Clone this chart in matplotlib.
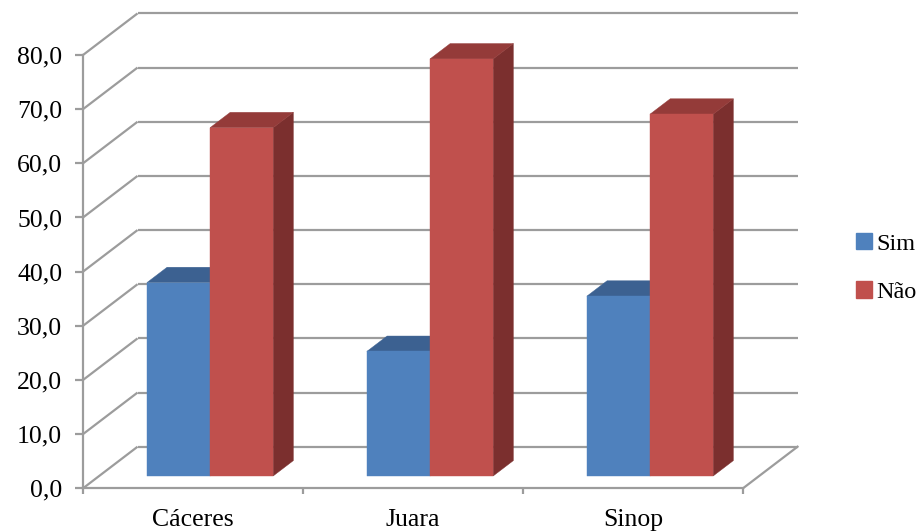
import matplotlib
matplotlib.use("Agg")
import matplotlib.pyplot as plt
from matplotlib.patches import Polygon, Patch

# Data
categories = ["Cáceres", "Juara", "Sinop"]
sim = [35.7, 23.0, 33.2]
nao = [64.3, 77.0, 66.8]
series_names = ["Sim", "Não"]
yticks = [0, 10, 20, 30, 40, 50, 60, 70, 80]
ytick_labels = ["0,0", "10,0", "20,0", "30,0", "40,0", "50,0", "60,0", "70,0", "80,0"]

# Style
FONT = ["Liberation Serif", "DejaVu Serif"]
FS = 18.5
FS_LEG = 17.5
GRID = "#9c9c9c"
front_col = ["#4F81BD", "#C0504D"]
top_col = ["#3C6191", "#943B39"]
side_col = ["#385D8A", "#7B2F2E"]

# Oblique 3-D geometry (in data units: categories along x, values along y)
DX, DY = 0.248, 7.68          # full depth of the floor / walls
F0, F1 = 0.296, 0.666         # bar front / back as a fraction of the depth
BAR_W = 0.287
BAR_START = 0.217

fig = plt.figure(figsize=(9.2, 5.31), dpi=100)
ax = fig.add_axes([83 / 920, (531 - 488.3) / 531, 660 / 920, 433.3 / 531])
ax.set_xlim(0, len(categories))
ax.set_ylim(0, 80)
ax.patch.set_alpha(0)

# Walls: side diagonals and back horizontal gridlines
xmax = len(categories)
for v in yticks:
    ax.plot([0, DX], [v, v + DY], color=GRID, lw=1.6, clip_on=False, zorder=1,
            solid_capstyle="butt")
    ax.plot([DX, xmax + DX], [v + DY, v + DY], color=GRID, lw=1.6, clip_on=False,
            zorder=1, solid_capstyle="butt")
# Floor right edge
ax.plot([xmax, xmax + DX], [0, DY], color=GRID, lw=1.6, clip_on=False, zorder=1)

# Bars
for i in range(len(categories)):
    for s, vals in enumerate([sim, nao]):
        v = vals[i]
        x0 = i + BAR_START + s * BAR_W
        x1 = x0 + BAR_W
        fx0, fx1 = F0 * DX, F1 * DX
        fy0, fy1 = F0 * DY, F1 * DY
        front = [(x0 + fx0, fy0), (x1 + fx0, fy0), (x1 + fx0, v + fy0), (x0 + fx0, v + fy0)]
        top = [(x0 + fx0, v + fy0), (x1 + fx0, v + fy0), (x1 + fx1, v + fy1), (x0 + fx1, v + fy1)]
        side = [(x1 + fx0, fy0), (x1 + fx1, fy1), (x1 + fx1, v + fy1), (x1 + fx0, v + fy0)]
        z = 3 + s
        for pts, col in ((side, side_col[s]), (top, top_col[s]), (front, front_col[s])):
            ax.add_patch(Polygon(pts, closed=True, facecolor=col, edgecolor=col,
                                 lw=0.3, clip_on=False, zorder=z))

# Front axes
for sp in ("top", "right"):
    ax.spines[sp].set_visible(False)
for sp in ("left", "bottom"):
    ax.spines[sp].set_color(GRID)
    ax.spines[sp].set_linewidth(1.6)
    ax.spines[sp].set_zorder(2)

ax.set_yticks(yticks)
ax.set_yticklabels(ytick_labels, fontsize=FS, family=FONT, color="#000000")
ax.tick_params(axis="y", direction="out", length=6, width=1.6, color=GRID, pad=9)

ax.set_xticks(range(xmax + 1), minor=True)
ax.set_xticks([i + 0.5 for i in range(xmax)])
ax.set_xticklabels(categories, fontsize=FS, family=FONT, color="#000000")
ax.tick_params(axis="x", which="major", length=0, pad=15)
ax.tick_params(axis="x", which="minor", direction="out", length=4, width=1.6, color=GRID)

# Legend
handles = [Patch(facecolor=front_col[k], edgecolor=front_col[k]) for k in range(2)]
fig.legend(handles, series_names, loc="center left", bbox_to_anchor=(856 / 920, 1 - 268 / 531),
           frameon=False, prop={"family": FONT, "size": FS_LEG}, handlelength=0.65,
           handleheight=0.65, handletextpad=0.2, labelspacing=1.1, borderpad=0.0,
           borderaxespad=0.0)

fig.savefig("out.png", dpi=100, facecolor="white")
